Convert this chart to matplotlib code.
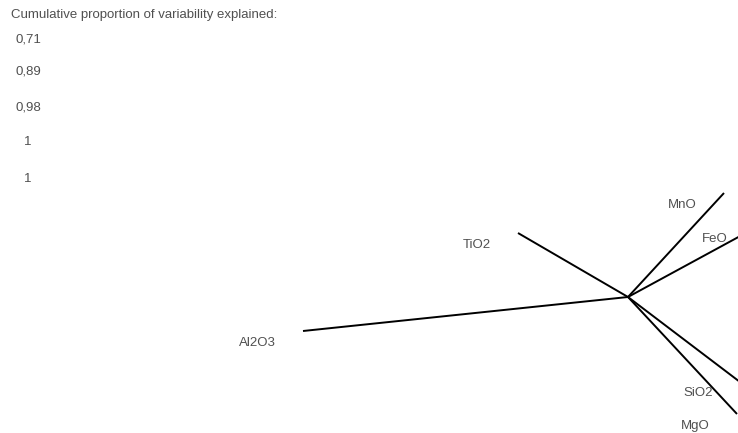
import matplotlib
matplotlib.use("Agg")
import matplotlib.pyplot as plt

plt.rcParams['font.family'] = ['Liberation Sans', 'DejaVu Sans']

# Data
variables = ["MnO", "FeO", "TiO2", "Al2O3", "SiO2", "MgO"]
pc1 = [0.96, 1.27, -1.10, -3.25, 1.12, 1.09]
pc2 = [1.04, 0.69, 0.64, -0.34, -0.85, -1.17]
cumulative = [0.71, 0.89, 0.98, 1.0, 1.0]
header = "Cumulative proportion of variability explained:"

W, H, DPI = 738, 433, 100
fig = plt.figure(figsize=(W / DPI, H / DPI), dpi=DPI)
ax = fig.add_axes([0, 0, 1, 1])
ax.set_xlim(-6.28, 1.10)
ax.set_ylim(-1.36, 2.97)
ax.axis('off')

fs = 9.5
txt_color = '#505050'
for name, x, y in zip(variables, pc1, pc2):
    ax.plot([0, x], [0, y], color='black', lw=1.4, solid_capstyle='butt',
            clip_on=False)
    ax.annotate(name, xy=(x, y), xytext=(-27, -11.5), textcoords='offset pixels',
                ha='right', va='center', fontsize=fs, color=txt_color,
                annotation_clip=False)

fig.text(11 / W, 1 - 15 / H, header, ha='left', va='center', fontsize=fs,
         color=txt_color)
ys = [40, 72, 108, 142, 179]
for v, yp in zip(cumulative, ys):
    fig.text(28 / W, 1 - yp / H, ('%g' % v).replace('.', ','), ha='center',
             va='center', fontsize=fs, color=txt_color)

fig.savefig('out.png', dpi=DPI)
